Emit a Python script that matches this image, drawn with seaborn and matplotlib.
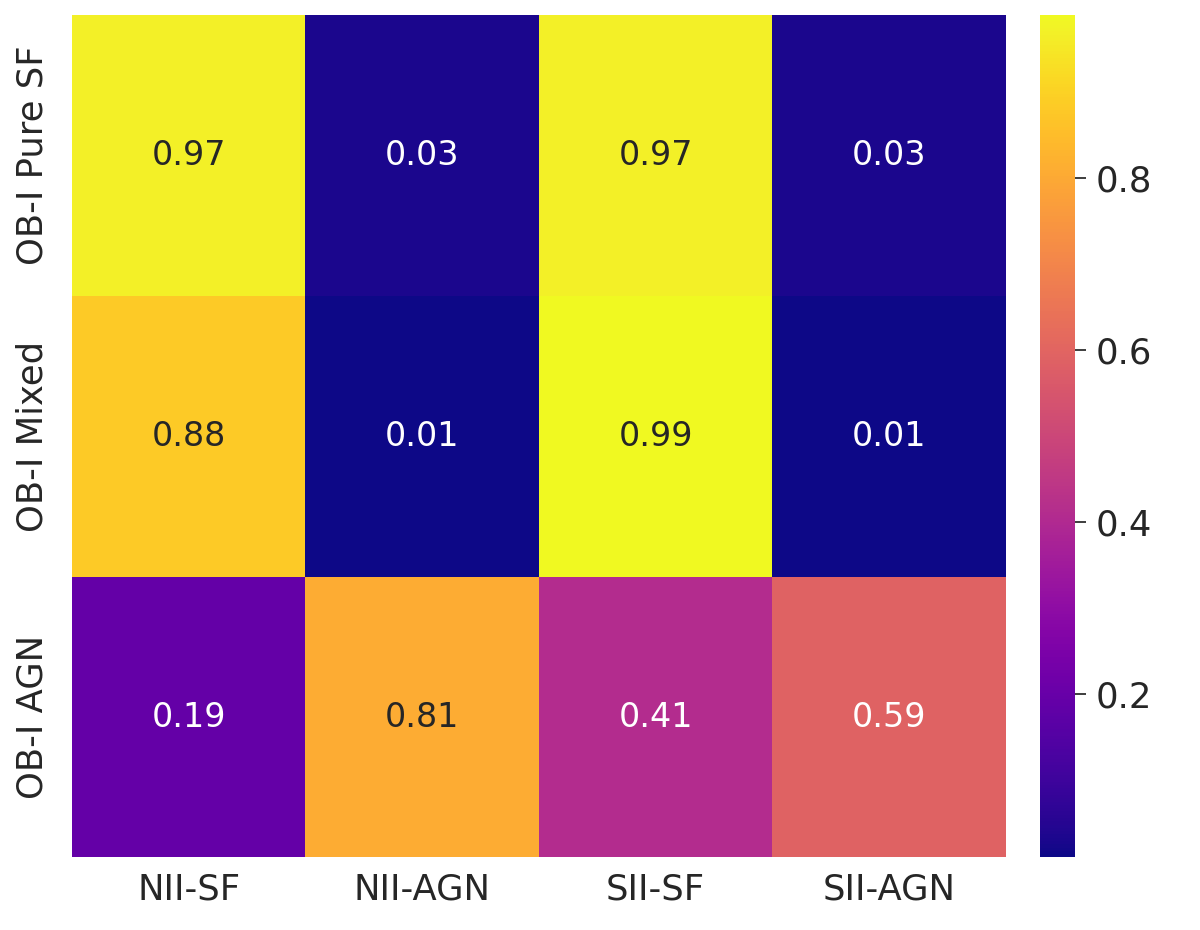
import matplotlib
matplotlib.use('Agg')
from matplotlib import pyplot as plt
import seaborn as sns
import numpy as np
import pandas as pd

rows = ['OB-I Pure SF', 'OB-I Mixed', 'OB-I AGN']
cols = ['NII-SF', 'NII-AGN', 'SII-SF', 'SII-AGN']
pure_sf = [0.97, 0.03, 0.97, 0.03]
mixed = [0.88, 0.01, 0.99, 0.01]
agn = [0.19, 0.81, 0.41, 0.59]


def main():
    sns.set_theme(font_scale=1.8)
    df = pd.DataFrame([pure_sf, mixed, agn], index=rows, columns=cols)

    fig = plt.figure(figsize=(12, 9.3), dpi=100)
    ax = fig.add_axes([0.06, 0.078, 0.778, 0.906])
    cax = fig.add_axes([0.867, 0.078, 0.029, 0.906])
    sns.heatmap(df, annot=True, fmt='.2f', cmap='plasma', ax=ax, cbar_ax=cax,
                annot_kws={'size': 24})
    ax.tick_params(axis='x', labelsize=25.5, length=0, pad=11)
    ax.tick_params(axis='y', labelsize=25.5, length=0, pad=16)
    cax.tick_params(labelsize=25.5, length=8, pad=7)
    plt.savefig('out.png')


if __name__ == '__main__':
    main()
